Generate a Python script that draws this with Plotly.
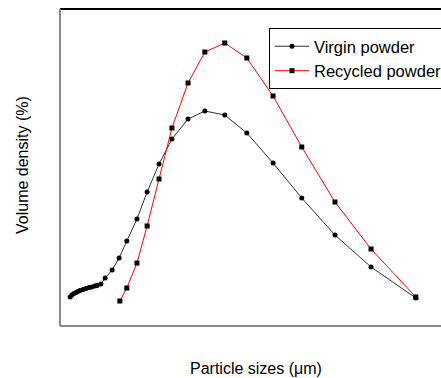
import plotly.graph_objects as go

# Particle size bins (arbitrary linear units)
virgin_x = [2.9, 3.4, 4.0, 4.6, 5.1, 5.7, 6.6, 7.4, 8.3, 9.1, 10.0, 10.6,
            11.7, 12.9, 14.9, 16.9, 19.1, 22.0, 24.9, 28.3, 32.0, 36.6,
            41.4, 47.1, 53.4, 60.9, 69.1, 78.6, 88.9, 101.7]
virgin_y = [0.725, 0.775, 0.81, 0.84, 0.86, 0.89, 0.91, 0.94, 0.96, 0.975, 1.0, 1.01,
            1.05, 1.2, 1.4, 1.7, 2.125, 2.675, 3.35, 4.05, 4.675, 5.175,
            5.375, 5.275, 4.825, 4.075, 3.2, 2.275, 1.475, 0.7]

recycled_x = [17.1, 19.1, 22.0, 24.9, 28.3, 32.0, 36.6, 41.4, 47.1, 53.4,
              60.9, 69.1, 78.6, 88.9, 101.7]
recycled_y = [0.625, 0.95, 1.575, 2.5, 3.675, 4.95, 6.075, 6.85, 7.075, 6.7,
              5.75, 4.475, 3.1, 1.925, 0.725]

series_names = ["Virgin powder", "Recycled powder"]
x_title = "Particle sizes (μm)"
y_title = "Volume density (%)"

FONT = "Liberation Sans, Arial, sans-serif"

fig = go.Figure()
fig.add_trace(go.Scatter(
    x=virgin_x, y=virgin_y, mode="lines+markers", name=series_names[0],
    line=dict(color="#333333", width=1),
    marker=dict(symbol="circle", size=5, color="black"),
))
fig.add_trace(go.Scatter(
    x=recycled_x, y=recycled_y, mode="lines+markers", name=series_names[1],
    line=dict(color="#ff0000", width=1),
    marker=dict(symbol="square", size=5, color="black"),
))

fig.update_layout(
    width=441, height=378,
    margin=dict(l=60, r=0, t=9, b=52, autoexpand=False),
    paper_bgcolor="white", plot_bgcolor="white",
    font=dict(family=FONT, size=16, color="black"),
    xaxis=dict(range=[0, 108.9], showgrid=False, zeroline=False,
               showticklabels=False, ticks="", showline=False),
    yaxis=dict(range=[0, 7.925], showgrid=False, zeroline=False,
               showticklabels=False, ticks="", showline=False),
    legend=dict(x=(269 - 60) / 381, y=(326 - 28) / 317, xanchor="left", yanchor="top",
                bordercolor="black", borderwidth=1, bgcolor="white",
                font=dict(family=FONT, size=16.5), tracegroupgap=0,
                itemwidth=34),
    showlegend=True,
    shapes=[
        dict(type="line", xref="paper", yref="paper", x0=0, x1=1, y0=1, y1=1,
             line=dict(color="black", width=2)),
        dict(type="line", xref="paper", yref="paper", x0=0, x1=0, y0=0, y1=1,
             line=dict(color="#888888", width=2)),
        dict(type="line", xref="paper", yref="paper", x0=0, x1=1, y0=0, y1=0,
             line=dict(color="#888888", width=2)),
    ],
    annotations=[
        dict(text=x_title, xref="paper", yref="paper", x=(256 - 60) / 381, y=-(368 - 326) / 317,
             xanchor="center", yanchor="middle", showarrow=False,
             font=dict(family=FONT, size=16)),
        dict(text=y_title, xref="paper", yref="paper", x=-(60 - 22) / 381, y=(326 - 165) / 317,
             xanchor="center", yanchor="middle", showarrow=False, textangle=-90,
             font=dict(family=FONT, size=16)),
    ],
)

fig.write_html("out.html")
